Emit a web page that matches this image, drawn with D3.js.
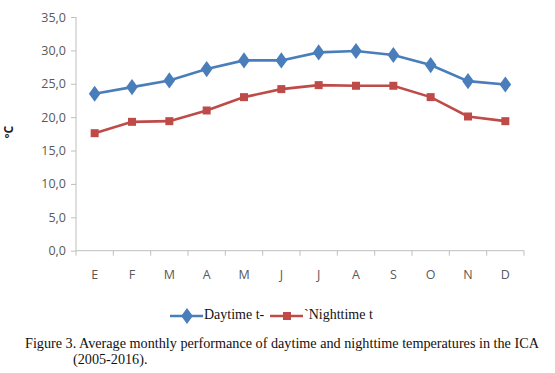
<!DOCTYPE html>
<html><head><meta charset="utf-8">
<script src="https://cdn.jsdelivr.net/npm/d3@7"></script>
<style>body{margin:0;background:#fff}svg{display:block}</style>
</head><body>
<script>
const months = ["E","F","M","A","M","J","J","A","S","O","N","D"];
const daytime = [23.5,24.5,25.5,27.2,28.5,28.5,29.7,29.9,29.3,27.8,25.4,24.9];
const nighttime = [17.6,19.3,19.4,21.0,23.0,24.2,24.8,24.7,24.7,23.0,20.1,19.4];
const yTicks = [0,5,10,15,20,25,30,35];
const legendLabels = ["Daytime t-","`Nighttime t"];
const captionLines = ["Figure 3. Average monthly performance of daytime and nighttime temperatures in the ICA","(2005-2016)."];

(function(){
const W=555,H=373;
const svg=d3.select("body").append("svg").attr("width",W).attr("height",H);
const pLeft=76,pRight=524,pTop=17,pBottom=250.7;
const idx=d3.range(months.length);
const x=d3.scaleBand().domain(idx).range([pLeft,pRight]);
const y=d3.scaleLinear().domain([0,35]).range([pBottom,pTop]);
const axisColor="#bfbfbf", textColor="#595959";
const sans="'Open Sans', 'DejaVu Sans', sans-serif";

// y axis
const ya=svg.append("g").attr("transform",`translate(${pLeft},0)`)
  .call(d3.axisLeft(y).tickValues(yTicks).tickSize(5).tickPadding(5)
    .tickFormat(d=>d3.format(".1f")(d).replace(".",",")));
ya.select(".domain").attr("stroke",axisColor).attr("d",`M0,${pTop}V${pBottom}`);
ya.selectAll(".tick line").attr("stroke",axisColor);
ya.selectAll(".tick text").attr("fill",textColor).style("font-family",sans).style("font-size","12.5px");

// x axis
const xa=svg.append("g").attr("transform",`translate(0,${pBottom})`);
xa.append("line").attr("x1",pLeft).attr("x2",pRight).attr("stroke",axisColor);
const bounds=idx.map(i=>x(i)).concat([pRight]);
xa.selectAll("line.t").data(bounds).join("line").attr("class","t")
  .attr("x1",d=>d).attr("x2",d=>d).attr("y1",0).attr("y2",5).attr("stroke",axisColor);
xa.selectAll("text").data(idx).join("text")
  .attr("x",i=>x(i)+x.bandwidth()/2).attr("y",24.5)
  .attr("text-anchor","middle").attr("dominant-baseline","middle")
  .attr("fill",textColor).style("font-family",sans).style("font-size","12.5px")
  .text(i=>months[i]);

// y label
svg.append("text").attr("transform","translate(13,132) rotate(-90)")
  .attr("text-anchor","middle").style("font-family",sans).style("font-size","12px")
  .style("font-weight","bold").attr("fill","#222").text("ºC");

const cx=i=>x(i)+x.bandwidth()/2;
const line=d3.line().x((d,i)=>cx(i)).y(d=>y(d));
const blue="#4a7ebb", red="#be4b48";
svg.append("path").datum(daytime).attr("d",line).attr("fill","none").attr("stroke",blue).attr("stroke-width",2.6);
svg.append("path").datum(nighttime).attr("d",line).attr("fill","none").attr("stroke",red).attr("stroke-width",2.6);
const diamond=d3.symbol().type(d3.symbolDiamond).size(75);
const square=d3.symbol().type(d3.symbolSquare).size(64);
svg.selectAll("path.dm").data(daytime).join("path").attr("class","dm")
  .attr("d",diamond).attr("transform",(d,i)=>`translate(${cx(i)},${y(d)}) scale(1.25,1)`).attr("fill",blue);
svg.selectAll("path.sq").data(nighttime).join("path").attr("class","sq")
  .attr("d",square).attr("transform",(d,i)=>`translate(${cx(i)},${y(d)})`).attr("fill",red);

// legend
const serif="'Liberation Serif','Times New Roman',serif";
const lg=svg.append("g");
const ly=316;
[[170,blue,diamond,1.25,204],[270,red,square,1,304]].forEach(([lx,c,sym,sx,tx],k)=>{
  lg.append("line").attr("x1",lx).attr("x2",lx+33).attr("y1",ly).attr("y2",ly).attr("stroke",c).attr("stroke-width",2.6);
  lg.append("path").attr("d",sym).attr("transform",`translate(${lx+17},${ly}) scale(${sx},1)`).attr("fill",c);
  lg.append("text").attr("x",tx).attr("y",ly).attr("dominant-baseline","middle")
    .style("font-family",serif).style("font-size","14px").attr("fill","#111").text(legendLabels[k]);
});

// caption
svg.append("text").attr("x",25).attr("y",348).style("font-family",serif).style("font-size","14.2px").attr("fill","#111").text(captionLines[0]);
svg.append("text").attr("x",73).attr("y",364).style("font-family",serif).style("font-size","14.2px").attr("fill","#111").text(captionLines[1]);
})();
</script>
</body></html>
